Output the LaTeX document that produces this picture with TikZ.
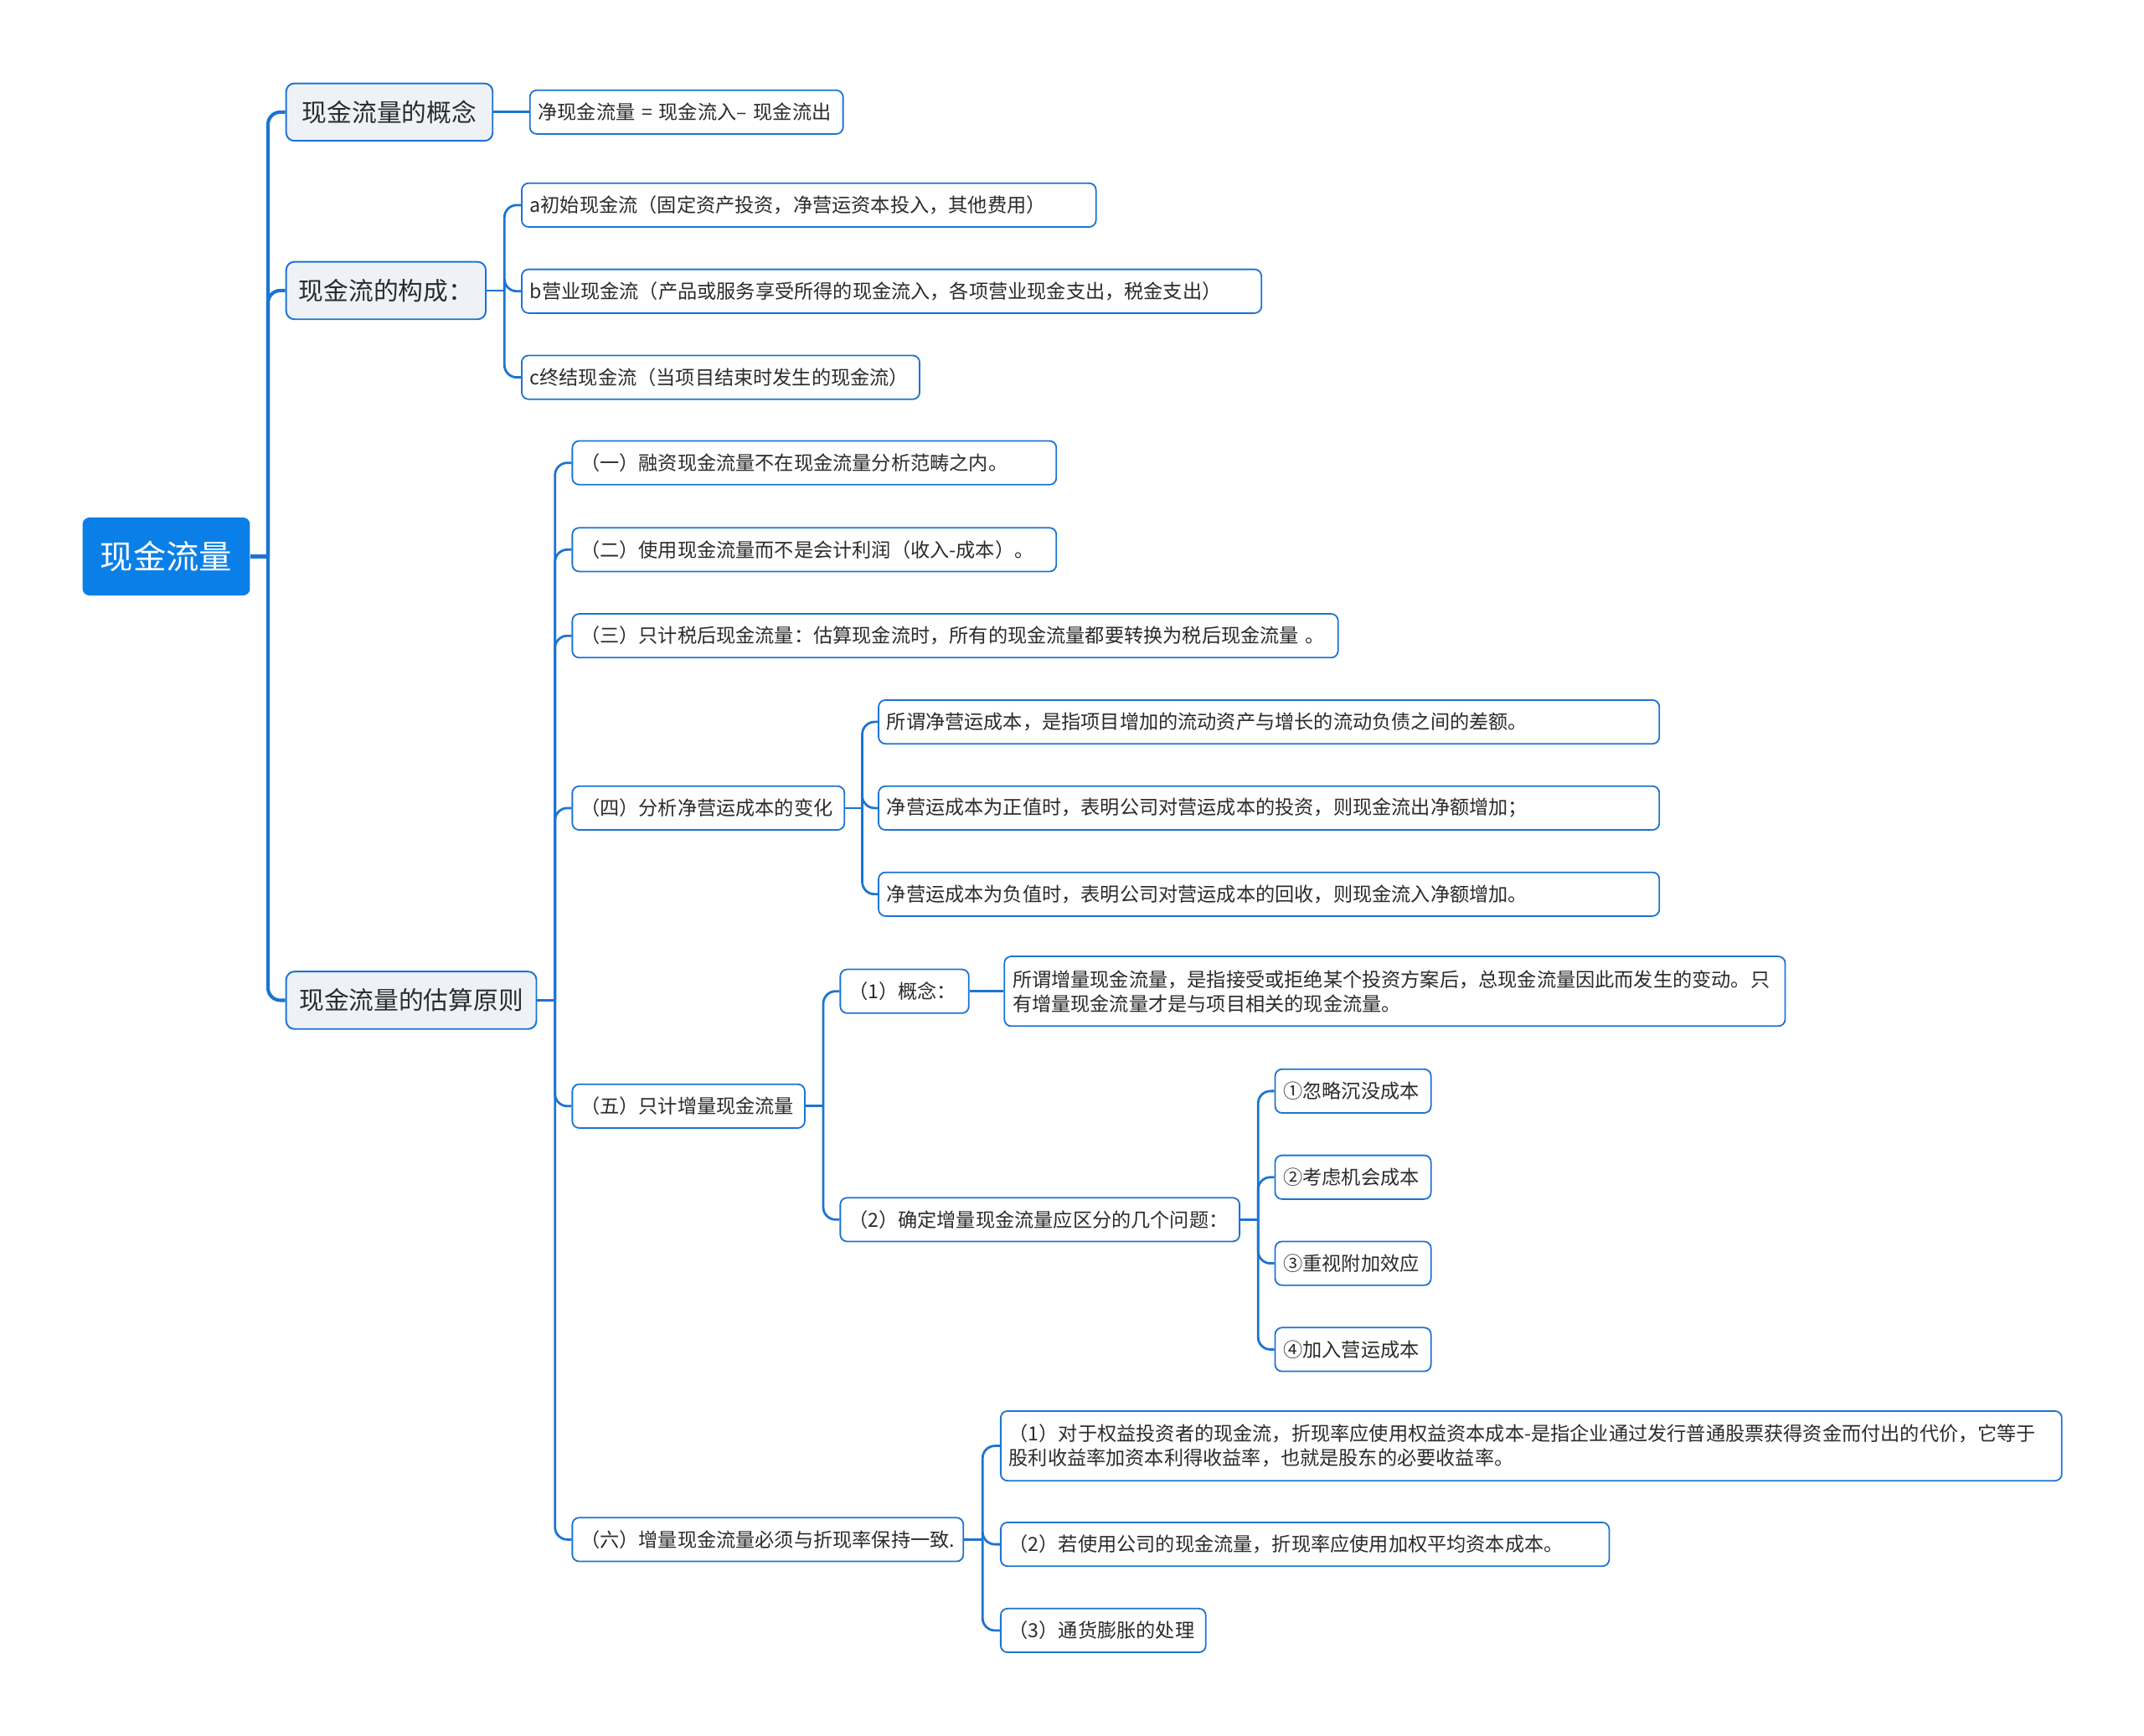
\documentclass[tikz,border=0pt]{standalone}
\usepackage{fontspec}
\newfontfamily\cjk{Noto Sans CJK SC}
\usetikzlibrary{positioning}

\definecolor{rootblue}{HTML}{0B7FE8}
\definecolor{lineblue}{HTML}{1C74D3}
\definecolor{topicgray}{HTML}{EEF2F6}
\definecolor{textgray}{HTML}{2B2B2B}

\begin{document}
\begin{tikzpicture}[x=1pt,y=-1pt,
    rootbox/.style={rectangle,rounded corners=5pt,fill=rootblue,text=white,font=\cjk\fontsize{24.1}{28}\selectfont,minimum height=57pt,inner xsep=13pt,anchor=west},
    topicbox/.style={rectangle,rounded corners=6pt,draw=lineblue,line width=1.2pt,fill=topicgray,text=textgray,font=\cjk\fontsize{18.2}{22}\selectfont,minimum height=42pt,inner xsep=0pt,anchor=west},
    leafbox/.style={rectangle,rounded corners=5pt,draw=lineblue,line width=1.1pt,fill=white,text=textgray,font=\cjk\fontsize{14.2}{17.8}\selectfont,minimum height=32pt,inner xsep=6pt,align=left,anchor=west},
    link/.style={draw=lineblue,line width=1.7pt,rounded corners=9pt},
    mainlink/.style={link,line width=2.5pt}
]
\useasboundingbox (0,0) rectangle (1568,1269.7);

% root and first level
\node[rootbox] (root) at (60.2,407) {现金流量};
\node[topicbox,minimum width=151pt] (concept) at (208.7,82) {现金流量的概念};
\node[topicbox,minimum width=146pt] (compose) at (208.7,212.5) {现金流的构成：};
\node[topicbox,minimum width=183pt] (estimate) at (208.7,731.6) {现金流量的估算原则};

% concept and composition
\node[leafbox,text width=217pt] (netflow) at (387,82) {净现金流量~=~现金流入–~现金流出};
\node[leafbox,text width=408pt] (flowa) at (381,150) {a初始现金流（固定资产投资，净营运资本投入，其他费用）};
\node[leafbox,text width=529pt] (flowb) at (381,213) {b营业现金流（产品或服务享受所得的现金流入，各项营业现金支出，税金支出）};
\node[leafbox,text width=279pt] (flowc) at (381,276) {c终结现金流（当项目结束时发生的现金流）};

% estimation rules
\node[leafbox,text width=342pt] (rule1) at (418,338.5) {（一）融资现金流量不在现金流量分析范畴之内。};
\node[leafbox,text width=342pt] (rule2) at (418,402) {（二）使用现金流量而不是会计利润（收入-成本）。};
\node[leafbox,text width=548pt] (rule3) at (418,465) {（三）只计税后现金流量：估算现金流时，所有的现金流量都要转换为税后现金流量 。};
\node[leafbox,text width=187pt] (rule4) at (418,591) {（四）分析净营运成本的变化};
\node[leafbox,text width=158pt] (rule5) at (418,809) {（五）只计增量现金流量};
\node[leafbox,text width=274pt] (rule6) at (418,1126) {（六）增量现金流量必须与折现率保持一致.};

% working capital
\node[leafbox,text width=559pt] (wc1) at (642,528) {所谓净营运成本，是指项目增加的流动资产与增长的流动负债之间的差额。};
\node[leafbox,text width=559pt] (wc2) at (642,591) {净营运成本为正值时，表明公司对营运成本的投资，则现金流出净额增加；};
\node[leafbox,text width=559pt] (wc3) at (642,654) {净营运成本为负值时，表明公司对营运成本的回收，则现金流入净额增加。};

% incremental cash flow
\node[leafbox,text width=82pt] (incr1) at (614,725) {（1）概念：};
\node[leafbox,text width=559pt,minimum height=51pt] (incrdef) at (734,725) {所谓增量现金流量，是指接受或拒绝某个投资方案后，总现金流量因此而发生的变动。只\\有增量现金流量才是与项目相关的现金流量。};
\node[leafbox,text width=280pt] (incr2) at (614,892) {（2）确定增量现金流量应区分的几个问题：};
\node[leafbox,text width=102pt] (issue1) at (932,798) {①忽略沉没成本};
\node[leafbox,text width=102pt] (issue2) at (932,861) {②考虑机会成本};
\node[leafbox,text width=102pt] (issue3) at (932,924) {③重视附加效应};
\node[leafbox,text width=102pt] (issue4) at (932,987) {④加入营运成本};

% discount rate
\node[leafbox,text width=764pt,minimum height=51pt] (rate1) at (731.3,1057.5) {（1）对于权益投资者的现金流，折现率应使用权益资本成本-是指企业通过发行普通股票获得资金而付出的代价，它等于\\股利收益率加资本利得收益率，也就是股东的必要收益率。};
\node[leafbox,text width=433pt] (rate2) at (731.3,1129.5) {（2）若使用公司的现金流量，折现率应使用加权平均资本成本。};
\node[leafbox,text width=138pt] (rate3) at (731.3,1192.5) {（3）通货膨胀的处理};

% connectors
\draw[mainlink] (root.east) -- ++(13pt,0) coordinate (rootfork);
\foreach \c in {concept,compose,estimate}
  \draw[mainlink] (rootfork) |- (\c.west);
\draw[link] (concept.east) -- (netflow.west);
\draw[link] (compose.east) -- ++(13pt,0) coordinate (composefork);
\foreach \c in {flowa,flowb,flowc}
  \draw[link] (composefork) |- (\c.west);
\draw[link] (estimate.east) -- ++(13pt,0) coordinate (estimatefork);
\foreach \c in {rule1,rule2,rule3,rule4,rule5,rule6}
  \draw[link] (estimatefork) |- (\c.west);
\draw[link] (rule4.east) -- ++(12.5pt,0) coordinate (rule4fork);
\foreach \c in {wc1,wc2,wc3}
  \draw[link] (rule4fork) |- (\c.west);
\draw[link] (rule5.east) -- ++(13pt,0) coordinate (rule5fork);
\foreach \c in {incr1,incr2}
  \draw[link] (rule5fork) |- (\c.west);
\draw[link] (incr1.east) -- (incrdef.west);
\draw[link] (incr2.east) -- ++(13pt,0) coordinate (incr2fork);
\foreach \c in {issue1,issue2,issue3,issue4}
  \draw[link] (incr2fork) |- (\c.west);
\draw[link] (rule6.east) -- ++(13.5pt,0) coordinate (rule6fork);
\foreach \c in {rate1,rate2,rate3}
  \draw[link] (rule6fork) |- (\c.west);
\end{tikzpicture}
\end{document}
